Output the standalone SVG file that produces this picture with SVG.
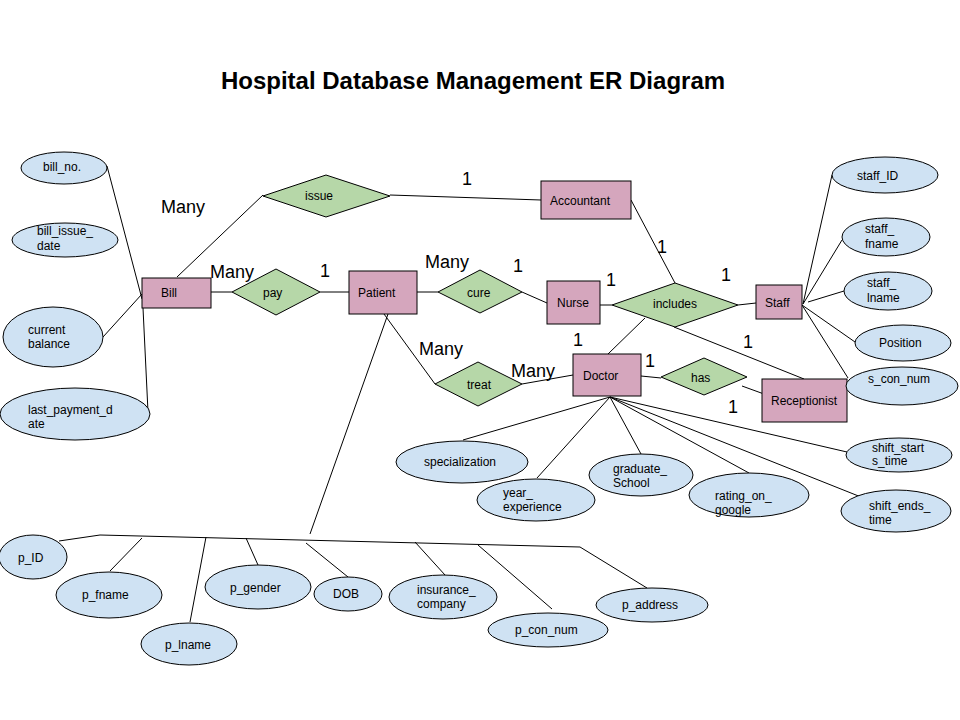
<svg xmlns="http://www.w3.org/2000/svg" width="960" height="720" viewBox="0 0 960 720">
<style>
text{font-family:"Liberation Sans",Arial,sans-serif;fill:#000}
.t{font-size:12px}
.c{font-size:18px}
.title{font-size:24px;font-weight:bold}
.e rect{fill:#d5a6bd;stroke:#000;stroke-width:1}
.r polygon{fill:#b6d7a8;stroke:#000;stroke-width:1}
.a ellipse{fill:#cfe2f3;stroke:#000;stroke-width:1}
#connectors line,#connectors polyline{stroke:#000;stroke-width:1;fill:none}
</style>
<rect width="960" height="720" fill="#fff"/>
<text class="title" x="473" y="89" text-anchor="middle">Hospital Database Management ER Diagram</text>

<g id="connectors">
<line x1="107" y1="166" x2="142" y2="299"/>
<line x1="103" y1="337" x2="142" y2="294"/>
<line x1="148" y1="412" x2="143" y2="308"/>
<line x1="177" y1="277" x2="263" y2="195"/>
<line x1="390" y1="195" x2="541" y2="200"/>
<line x1="211" y1="292" x2="232" y2="292"/>
<line x1="320" y1="292" x2="349" y2="292"/>
<line x1="417" y1="292" x2="438" y2="292"/>
<line x1="522" y1="292" x2="547" y2="303"/>
<line x1="600" y1="305" x2="612" y2="305"/>
<line x1="631" y1="200" x2="675" y2="283"/>
<line x1="738" y1="305" x2="756" y2="303"/>
<line x1="645" y1="318" x2="608" y2="354"/>
<line x1="674" y1="327" x2="804" y2="379"/>
<line x1="641" y1="376" x2="661" y2="378"/>
<line x1="742" y1="386" x2="764" y2="394"/>
<line x1="384" y1="314" x2="435" y2="384"/>
<line x1="522" y1="384" x2="573" y2="375"/>
<line x1="388" y1="314" x2="310" y2="534"/>
<line x1="100" y1="535" x2="580" y2="547"/>
<line x1="59" y1="541" x2="100" y2="535"/>
<line x1="110" y1="571" x2="142" y2="538"/>
<line x1="190" y1="622" x2="206" y2="537"/>
<line x1="258" y1="565" x2="246" y2="538"/>
<line x1="348" y1="577" x2="306" y2="543"/>
<line x1="445" y1="575" x2="415" y2="542"/>
<line x1="552" y1="609" x2="478" y2="545"/>
<line x1="647" y1="588" x2="580" y2="547"/>
<line x1="610" y1="397" x2="463" y2="440"/>
<line x1="610" y1="397" x2="537" y2="478"/>
<line x1="610" y1="397" x2="641" y2="454"/>
<line x1="610" y1="397" x2="749" y2="473"/>
<line x1="610" y1="397" x2="847" y2="452"/>
<line x1="610" y1="397" x2="861" y2="497"/>
<line x1="803" y1="304" x2="832" y2="175"/>
<line x1="803" y1="304" x2="842" y2="240"/>
<line x1="808" y1="302" x2="844" y2="291"/>
<line x1="802" y1="305" x2="855" y2="342"/>
<line x1="802" y1="305" x2="848" y2="378"/>
</g>

<g id="bill" class="e"><rect x="142" y="278" width="69" height="30"/><text class="t" x="161" y="297">Bill</text></g>
<g id="accountant" class="e"><rect x="541" y="181" width="90" height="38"/><text class="t" x="550" y="205">Accountant</text></g>
<g id="patient" class="e"><rect x="349" y="271" width="68" height="43"/><text class="t" x="358" y="297">Patient</text></g>
<g id="nurse" class="e"><rect x="547" y="281" width="53" height="43"/><text class="t" x="557" y="307">Nurse</text></g>
<g id="doctor" class="e"><rect x="573" y="354" width="68" height="42"/><text class="t" x="583" y="380">Doctor</text></g>
<g id="staff" class="e"><rect x="756" y="285" width="46" height="34"/><text class="t" x="765" y="307">Staff</text></g>
<g id="receptionist" class="e"><rect x="762" y="379" width="85" height="43"/><text class="t" x="771" y="405">Receptionist</text></g>

<g id="issue" class="r"><polygon points="263,196 326,175 390,196 326,217"/><text class="t" x="305" y="200">issue</text></g>
<g id="pay" class="r"><polygon points="232,292 276,269 320,292 276,315"/><text class="t" x="263" y="297">pay</text></g>
<g id="cure" class="r"><polygon points="438,292 480,270 522,292 480,313"/><text class="t" x="467" y="297">cure</text></g>
<g id="includes" class="r"><polygon points="612,305 675,283 738,305 675,327"/><text class="t" x="653" y="308">includes</text></g>
<g id="treat" class="r"><polygon points="435,384 478,362 522,384 478,406"/><text class="t" x="467" y="389">treat</text></g>
<g id="has" class="r"><polygon points="661,377 704,358 747,377 704,395"/><text class="t" x="691" y="382">has</text></g>

<g id="bill_no" class="a"><ellipse cx="64" cy="168" rx="43" ry="16"/><text class="t" x="43" y="171">bill_no.</text></g>
<g id="bill_issue_date" class="a"><ellipse cx="65" cy="240" rx="53" ry="17"/><text class="t" x="37" y="235">bill_issue_</text><text class="t" x="37" y="250">date</text></g>
<g id="current_balance" class="a"><ellipse cx="53" cy="337" rx="50" ry="30"/><text class="t" x="28" y="334">current</text><text class="t" x="28" y="348">balance</text></g>
<g id="last_payment_date" class="a"><ellipse cx="75" cy="414" rx="75" ry="26"/><text class="t" x="28" y="414">last_payment_d</text><text class="t" x="28" y="428">ate</text></g>

<g id="staff_ID" class="a"><ellipse cx="885" cy="175" rx="53" ry="18"/><text class="t" x="857" y="180">staff_ID</text></g>
<g id="staff_fname" class="a"><ellipse cx="886" cy="237" rx="44" ry="19"/><text class="t" x="865" y="233">staff_</text><text class="t" x="865" y="248">fname</text></g>
<g id="staff_lname" class="a"><ellipse cx="888" cy="291" rx="44" ry="19"/><text class="t" x="867" y="287">staff_</text><text class="t" x="867" y="302">lname</text></g>
<g id="position" class="a"><ellipse cx="903" cy="343" rx="48" ry="18"/><text class="t" x="879" y="347">Position</text></g>
<g id="s_con_num" class="a"><ellipse cx="902" cy="386" rx="56" ry="19"/><text class="t" x="868" y="383">s_con_num</text></g>

<g id="specialization" class="a"><ellipse cx="462" cy="462" rx="66" ry="21"/><text class="t" x="424" y="466">specialization</text></g>
<g id="year_experience" class="a"><ellipse cx="536" cy="500" rx="59" ry="21"/><text class="t" x="503" y="497">year_</text><text class="t" x="503" y="511">experience</text></g>
<g id="graduate_school" class="a"><ellipse cx="641" cy="475" rx="52" ry="21"/><text class="t" x="613" y="473">graduate_</text><text class="t" x="613" y="487">School</text></g>
<g id="rating_on_google" class="a"><ellipse cx="749" cy="495" rx="60" ry="22"/><text class="t" x="715" y="500">rating_on_</text><text class="t" x="715" y="514">google</text></g>
<g id="shift_starts_time" class="a"><ellipse cx="899" cy="455" rx="53" ry="17"/><text class="t" x="872" y="452">shift_start</text><text class="t" x="872" y="465">s_time</text></g>
<g id="shift_ends_time" class="a"><ellipse cx="896" cy="511" rx="55" ry="21"/><text class="t" x="869" y="510">shift_ends_</text><text class="t" x="869" y="524">time</text></g>

<g id="p_ID" class="a"><ellipse cx="33" cy="557" rx="34" ry="22"/><text class="t" x="18" y="562">p_ID</text></g>
<g id="p_fname" class="a"><ellipse cx="109" cy="595" rx="53" ry="23"/><text class="t" x="82" y="599">p_fname</text></g>
<g id="p_lname" class="a"><ellipse cx="189" cy="644" rx="48" ry="21"/><text class="t" x="165" y="649">p_lname</text></g>
<g id="p_gender" class="a"><ellipse cx="258" cy="587" rx="53" ry="22"/><text class="t" x="230" y="592">p_gender</text></g>
<g id="dob" class="a"><ellipse cx="348" cy="594" rx="34" ry="17"/><text class="t" x="333" y="598">DOB</text></g>
<g id="insurance_company" class="a"><ellipse cx="443" cy="597" rx="54" ry="22"/><text class="t" x="417" y="594">insurance_</text><text class="t" x="417" y="608">company</text></g>
<g id="p_con_num" class="a"><ellipse cx="548" cy="630" rx="60" ry="17"/><text class="t" x="515" y="634">p_con_num</text></g>
<g id="p_address" class="a"><ellipse cx="652" cy="605" rx="56" ry="17"/><text class="t" x="622" y="609">p_address</text></g>

<g id="cardinalities">
<text class="c" x="161" y="213">Many</text>
<text class="c" x="210" y="278">Many</text>
<text class="c" x="320" y="277">1</text>
<text class="c" x="462" y="185">1</text>
<text class="c" x="425" y="268">Many</text>
<text class="c" x="513" y="272">1</text>
<text class="c" x="606" y="286">1</text>
<text class="c" x="657" y="253">1</text>
<text class="c" x="721" y="281">1</text>
<text class="c" x="419" y="355">Many</text>
<text class="c" x="511" y="377">Many</text>
<text class="c" x="573" y="346">1</text>
<text class="c" x="645" y="367">1</text>
<text class="c" x="743" y="348">1</text>
<text class="c" x="728" y="413">1</text>
</g>
</svg>
